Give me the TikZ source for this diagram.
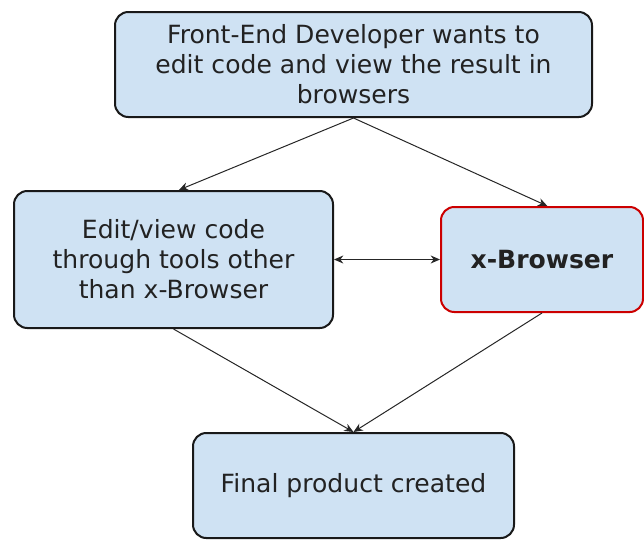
\documentclass[tikz,border=0pt]{standalone}
\usepackage{fontspec}
\setmainfont{DejaVu Sans}
\usetikzlibrary{arrows.meta}
\definecolor{boxfill}{HTML}{CFE2F3}
\definecolor{boxred}{HTML}{CC0000}
\definecolor{txt}{HTML}{222222}
\tikzset{
  box/.style={draw=black!90, line width=1.5pt, fill=boxfill, rounded corners=10pt,
    align=center, text=txt, font=\fontsize{18.8}{22.5}\selectfont, inner sep=0pt},
  redbox/.style={box, draw=boxred},
  conn/.style={line width=0.75pt, draw=black!85, -{Stealth[length=7pt,width=6pt]}},
}
\begin{document}
\begin{tikzpicture}[x=0.75pt,y=-0.75pt]
\useasboundingbox (0,0) rectangle (644,540);
\node[box, minimum width=357.75pt, minimum height=78.75pt] (top) at (353.5,64.5)
  {Front-End Developer wants to\\edit code and view the result in\\browsers};
\node[box, minimum width=239.25pt, minimum height=102.75pt] (left) at (173.5,259.5)
  {Edit/view code\\through tools other\\than x-Browser};
\node[redbox, minimum width=151.5pt, minimum height=78.75pt] (right) at (542,259.5)
  {\textbf{x-Browser}};
\node[box, minimum width=240.75pt, minimum height=78.75pt] (bot) at (353.5,485.5)
  {Final product created};
\draw[conn] (top.south) -- ([xshift=4pt]left.north);
\draw[conn] (top.south) -- ([xshift=4pt]right.north);
\draw[conn] (left.south) -- (bot.north);
\draw[conn] (right.south) -- (bot.north);
\draw[conn, {Stealth[length=7pt,width=6pt]}-{Stealth[length=7pt,width=6pt]}] (left.east) -- (right.west);
\end{tikzpicture}
\end{document}
